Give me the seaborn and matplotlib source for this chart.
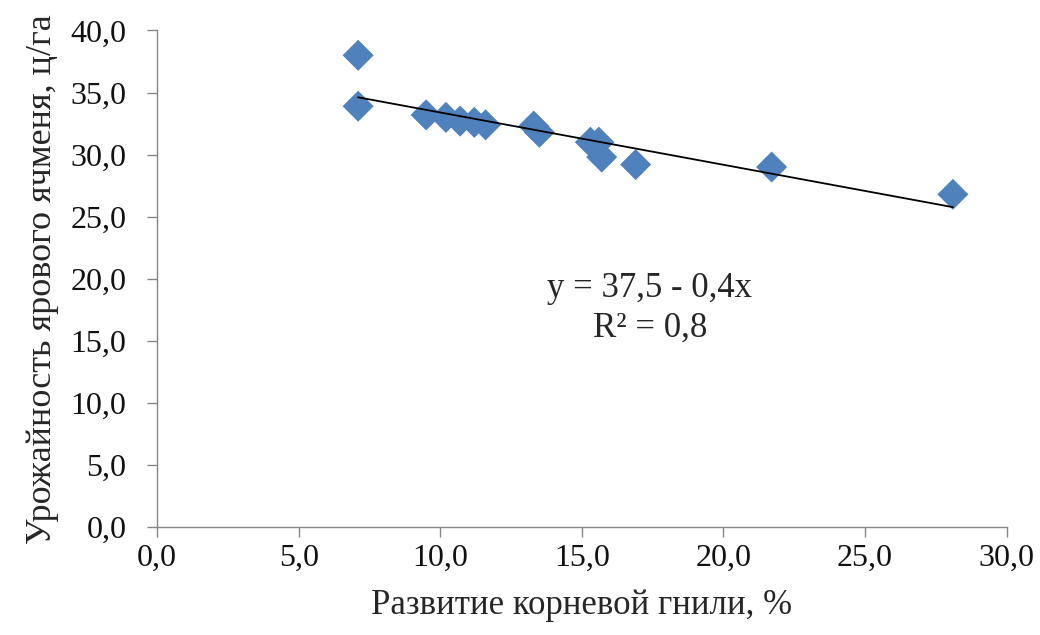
import numpy as np
import pandas as pd
import matplotlib
matplotlib.use('Agg')
import matplotlib.pyplot as plt
import seaborn as sns

#data
root_rot = [7.1, 7.1, 9.5, 10.2, 10.7, 11.2, 11.6, 13.3, 13.5, 15.3, 15.6, 15.7, 16.9, 21.7, 28.1]
barley_yield = [38.0, 33.9, 33.2, 33.0, 32.7, 32.6, 32.4, 32.3, 31.8, 31.0, 31.0, 29.8, 29.2, 29.0, 26.8]
x_ticks = [0, 5, 10, 15, 20, 25, 30]
y_ticks = [0, 5, 10, 15, 20, 25, 30, 35, 40]

df = pd.DataFrame({'rot': root_rot, 'yield': barley_yield})

#setting parameters
sns.set_theme(style='white')
plt.rcParams['font.family'] = ['Liberation Serif', 'DejaVu Serif']

fig, ax = plt.subplots(figsize=(10.4, 6.35), dpi=100)
fig.subplots_adjust(left=0.151, right=0.968, bottom=0.170, top=0.952)

sns.scatterplot(data=df, x='rot', y='yield', marker='D', s=250, color='#4F81BD',
                edgecolor='none', ax=ax, zorder=2)
sns.regplot(data=df, x='rot', y='yield', scatter=False, ci=None, truncate=True,
            color='black', line_kws={'linewidth': 1.3, 'zorder': 3}, ax=ax)

ax.set_xlim(0, 30)
ax.set_ylim(0, 40)
ax.set_xticks(x_ticks)
ax.set_yticks(y_ticks)
ax.set_xticklabels([f'{v:.1f}'.replace('.', ',') for v in x_ticks], fontsize=23)
ax.set_yticklabels([f'{v:.1f}'.replace('.', ',') for v in y_ticks], fontsize=23)
ax.set_xlabel('Развитие корневой гнили, %', fontsize=25, labelpad=12)
ax.set_ylabel('Урожайность ярового ячменя, ц/га', fontsize=26, labelpad=8)

for side in ['top', 'right']:
    ax.spines[side].set_visible(False)
for side in ['left', 'bottom']:
    ax.spines[side].set_color('#868686')
    ax.spines[side].set_linewidth(1)
ax.tick_params(axis='both', direction='out', length=7, width=1, color='#868686',
               colors='#111111')
ax.tick_params(axis='x', bottom=True, pad=5)
ax.tick_params(axis='y', left=True, pad=15)

#equation of the trend line
ax.text(17.4, 19.2, 'y = 37,5 - 0,4x', fontsize=25, ha='center', va='center')
ax.text(17.4, 16.0, 'R² = 0,8', fontsize=25, ha='center', va='center')

plt.savefig('out.png', dpi=100)
